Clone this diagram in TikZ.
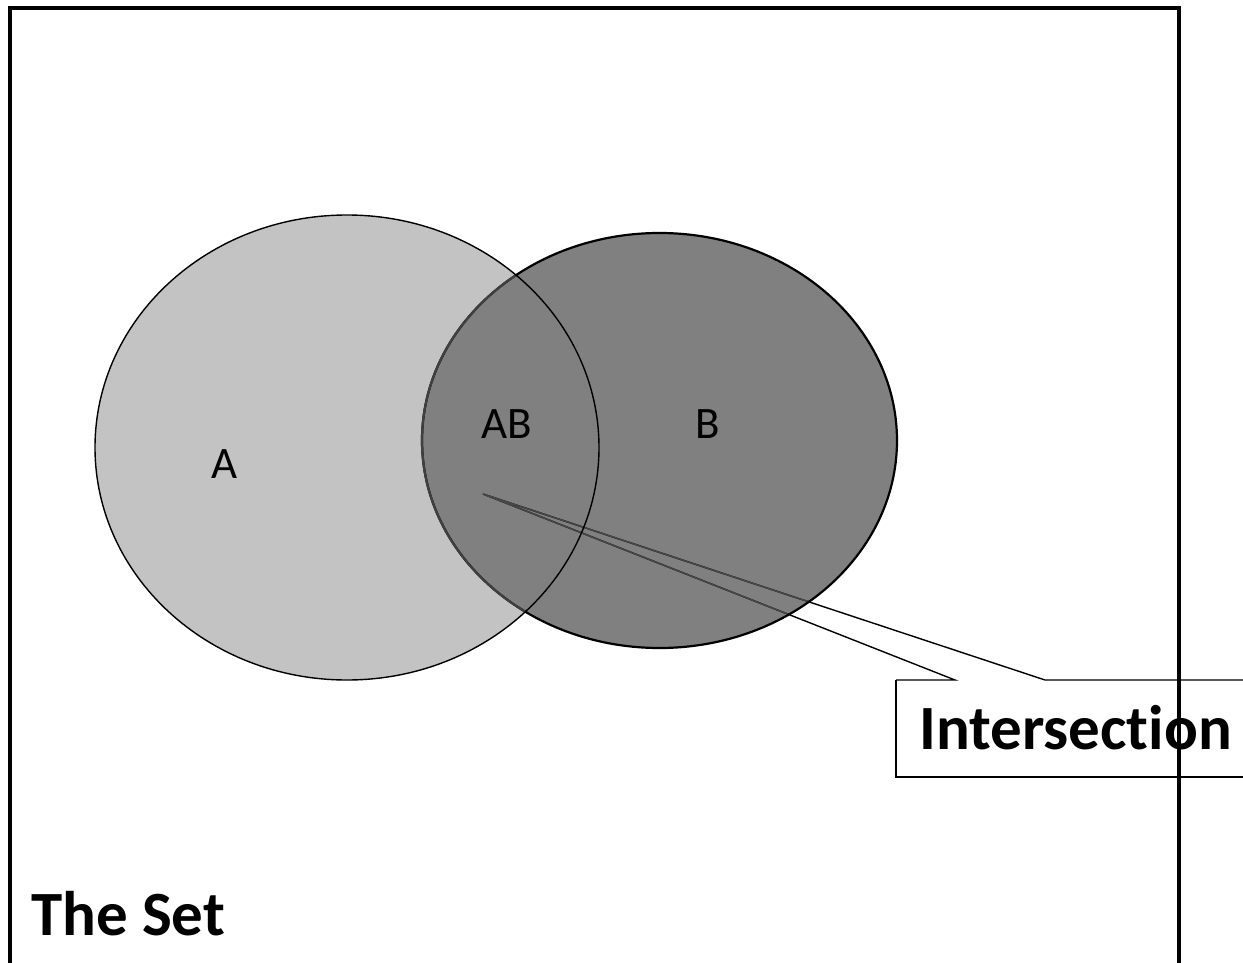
\documentclass[tikz,border=0pt]{standalone}
\usepackage{fontspec}
\setmainfont{Carlito}[Ligatures={NoCommon}]
\definecolor{afill}{gray}{0.765}
\definecolor{bfill}{gray}{0.502}
\definecolor{bedge}{gray}{0.25}
\definecolor{cedge}{gray}{0.28}
\begin{document}
\begin{tikzpicture}[x=1pt,y=-1pt,
  lbl/.style={inner sep=0pt,anchor=base,font=\fontsize{45}{52}\selectfont},
  big/.style={inner sep=0pt,anchor=base west,font=\bfseries\fontsize{63}{70}\selectfont},
  callout/.style={line width=1.4pt},
  frameline/.style={line width=4pt,black}]
\useasboundingbox (0,0) rectangle (1243,963);
\clip (0,0) rectangle (1243,963);
\fill[white] (0,0) rectangle (1243,963);
% set A fill
\fill[afill] (347,447.5) ellipse [x radius=252, y radius=232.5];
% set B fill
\fill[bfill] (659.5,440.5) ellipse [x radius=237.5, y radius=207.5];
% callout
\coordinate (tip) at (483,494);
\coordinate (bl) at (896,680);
\coordinate (w1) at (955,680);
\coordinate (w2) at (1045,680);
\coordinate (tr) at (1260,680);
\coordinate (bb) at (896,777);
\coordinate (br) at (1260,777);
\draw[callout,black] (bl) -- (w1) -- (tip) -- (w2) -- (tr);
\draw[callout,black] (bl) -- (bb) -- (br);
\begin{scope}
  \clip (659.5,440.5) ellipse [x radius=237.5, y radius=207.5];
  \draw[callout,cedge] (w1) -- (tip) -- (w2);
\end{scope}
\node[big] (inter) at (919,749) {Intersection};
% set B outline
\draw[line width=2.2pt] (659.5,440.5) ellipse [x radius=237.5, y radius=207.5];
\begin{scope}
  \clip (347,447.5) ellipse [x radius=252, y radius=232.5];
  \draw[line width=2.2pt, bedge] (659.5,440.5) ellipse [x radius=237.5, y radius=207.5];
\end{scope}
% A outline
\draw[line width=1.4pt] (347,447.5) ellipse [x radius=252, y radius=232.5];
% labels
\node[lbl] (la) at (225,478) {A};
\node[lbl] (lab) at (507,438) {AB};
\node[lbl] (lb) at (708,438) {B};
\node[big] (set) at (31,935) {The Set};
% frame
\draw[frameline] (10.3,1000) -- (10.3,8) -- (1178.7,8) -- (1178.7,1000);
\end{tikzpicture}
\end{document}
